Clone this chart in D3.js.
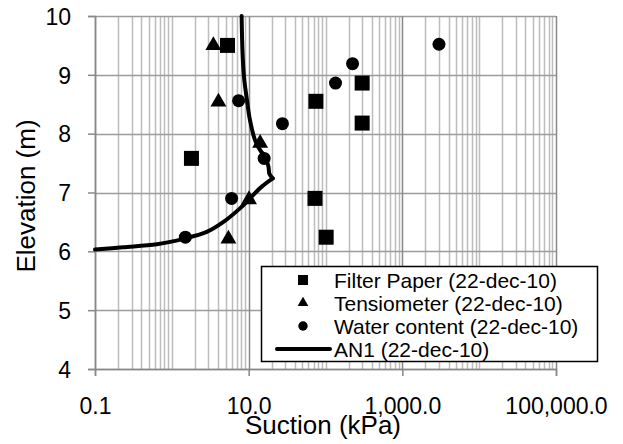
<!DOCTYPE html>
<html>
<head>
<meta charset="utf-8">
<script src="https://cdn.jsdelivr.net/npm/d3@7"></script>
<style>
  html, body { margin: 0; padding: 0; background: #fff; }
  svg { display: block; font-family: "Liberation Sans", Arial, sans-serif; }
</style>
</head>
<body>
<svg id="chart" width="623" height="444"></svg>
<script>
// Suction profile measurements, 22-dec-10
const filterSuction = [5.3, 1.8, 75, 300, 300, 73, 102];
const filterElev    = [9.5, 7.58, 8.55, 8.86, 8.18, 6.9, 6.24];

const tensioSuction = [3.47, 4.04, 14.1, 10.1, 5.45];
const tensioElev    = [9.5, 8.54, 7.84, 6.88, 6.21];

const waterSuction = [1.5, 6.0, 15.9, 27.5, 7.4, 135, 225, 3000];
const waterElev    = [6.24, 6.9, 7.58, 8.17, 8.56, 8.86, 9.19, 9.52];

// AN1 profile: lower branch up to the kink, then upper branch
const an1LowSuction = [0.1, 0.23, 0.64, 1.5, 2.85, 4.7, 7.7, 10.4, 14.8, 20.6];
const an1LowElev    = [6.03, 6.07, 6.12, 6.22, 6.33, 6.50, 6.73, 6.90, 7.10, 7.24];
const an1UpSuction  = [20.6, 18.6, 18.1, 16.4, 14.1, 12.1, 10.4, 9.5, 8.7, 8.3, 8.1];
const an1UpElev     = [7.24, 7.32, 7.44, 7.61, 7.72, 7.89, 8.23, 8.57, 8.96, 9.42, 10.0];

const xTicks = [0.1, 10, 1000, 100000];
const yTicks = [4, 5, 6, 7, 8, 9, 10];

const seriesNames = [
  "Filter Paper (22-dec-10)",
  "Tensiometer (22-dec-10)",
  "Water content (22-dec-10)",
  "AN1 (22-dec-10)"
];

const svg = d3.select("#chart");
const plot = { left: 95, right: 556, top: 16, bottom: 369 };

const x = d3.scaleLog().domain([0.1, 100000]).range([plot.left, plot.right]);
const y = d3.scaleLinear().domain([4, 10]).range([plot.bottom, plot.top]);

const fmtX = d3.format(",.1f");

// minor vertical gridlines at 1..9 x 10^k
const minor = [];
for (let e = -1; e <= 4; e++) {
  for (let k = 1; k <= 9; k++) minor.push(k * Math.pow(10, e));
}
minor.push(100000);

const grid = svg.append("g");
grid.selectAll("line.minor").data(minor.filter(v => !xTicks.includes(v)))
  .join("line")
  .attr("x1", d => Math.round(x(d)) + 0.5).attr("x2", d => Math.round(x(d)) + 0.5)
  .attr("y1", plot.top).attr("y2", plot.bottom)
  .attr("stroke", "#bdbdbd").attr("stroke-width", 1.5);

grid.selectAll("line.h").data(yTicks)
  .join("line")
  .attr("x1", plot.left).attr("x2", plot.right)
  .attr("y1", d => Math.round(y(d)) + 0.5).attr("y2", d => Math.round(y(d)) + 0.5)
  .attr("stroke", "#9c9c9c").attr("stroke-width", 1.5);

grid.selectAll("line.major").data(xTicks)
  .join("line")
  .attr("x1", d => Math.round(x(d)) + 0.5).attr("x2", d => Math.round(x(d)) + 0.5)
  .attr("y1", plot.top).attr("y2", plot.bottom)
  .attr("stroke", "#888").attr("stroke-width", 1.5);

// axes
const xAxis = d3.axisBottom(x).tickValues(xTicks).tickFormat(fmtX).tickSize(7).tickPadding(22);
const yAxis = d3.axisLeft(y).tickValues(yTicks).tickFormat(d3.format("d")).tickSize(7).tickPadding(17);

const gx = svg.append("g").attr("transform", `translate(0,${plot.bottom})`).call(xAxis);
const gy = svg.append("g").attr("transform", `translate(${plot.left},0)`).call(yAxis);
[gx, gy].forEach(g => {
  g.select(".domain").attr("stroke", "#888").attr("stroke-width", 1.5);
  g.selectAll(".tick line").attr("stroke", "#888").attr("stroke-width", 1.5);
  g.selectAll(".tick text").attr("fill", "#000").style("font-size", "23px")
    .style("font-family", "'Liberation Sans', Arial, sans-serif");
});
gy.selectAll(".tick text").attr("dy", "0.36em");
gx.selectAll(".tick text").attr("dy", "0.68em");

// axis titles
svg.append("text").attr("x", 323).attr("y", 434).attr("text-anchor", "middle")
  .style("font-size", "26px").text("Suction (kPa)");
svg.append("text").attr("transform", "translate(35,196) rotate(-90)").attr("text-anchor", "middle")
  .style("font-size", "26px").text("Elevation (m)");

// AN1 profile line, smoothed along each branch
const line = d3.line().x(d => x(d[0])).y(d => y(d[1])).curve(d3.curveCatmullRom.alpha(0.5));
[[an1LowSuction, an1LowElev], [an1UpSuction, an1UpElev]].forEach(([s, e]) => {
  svg.append("path")
    .datum(d3.zip(s, e))
    .attr("d", line).attr("fill", "none").attr("stroke", "#000")
    .attr("stroke-width", 4).attr("stroke-linejoin", "round").attr("stroke-linecap", "round");
});

// markers
const sqSym = d3.symbol().type(d3.symbolSquare).size(15 * 15);
const triSym = d3.symbol().type(d3.symbolTriangle).size(110);
const cirSym = d3.symbol().type(d3.symbolCircle).size(Math.PI * 6.5 * 6.5);

svg.append("g").selectAll("path").data(d3.zip(filterSuction, filterElev)).join("path")
  .attr("d", sqSym).attr("transform", d => `translate(${x(d[0])},${y(d[1])})`).attr("fill", "#000");
svg.append("g").selectAll("path").data(d3.zip(tensioSuction, tensioElev)).join("path")
  .attr("d", triSym).attr("transform", d => `translate(${x(d[0])},${y(d[1])})`).attr("fill", "#000");
svg.append("g").selectAll("path").data(d3.zip(waterSuction, waterElev)).join("path")
  .attr("d", cirSym).attr("transform", d => `translate(${x(d[0])},${y(d[1])})`).attr("fill", "#000");

// legend
const lg = svg.append("g");
lg.append("rect").attr("x", 261.5).attr("y", 266.5).attr("width", 336).attr("height", 95)
  .attr("fill", "#fff").attr("stroke", "#000").attr("stroke-width", 1.5);
const rowY = [280, 303, 326, 349];
const legSyms = [
  d3.symbol().type(d3.symbolSquare).size(100),
  d3.symbol().type(d3.symbolTriangle).size(50),
  d3.symbol().type(d3.symbolCircle).size(70)
];
legSyms.forEach((s, i) => {
  lg.append("path").attr("d", s).attr("transform", `translate(303,${rowY[i]})`).attr("fill", "#000");
});
lg.append("line").attr("x1", 277).attr("x2", 330).attr("y1", rowY[3]).attr("y2", rowY[3])
  .attr("stroke", "#000").attr("stroke-width", 4).attr("stroke-linecap", "round");
seriesNames.forEach((n, i) => {
  lg.append("text").attr("x", 334).attr("y", rowY[i] + 7.5).style("font-size", "21px").text(n);
});
</script>
</body>
</html>
